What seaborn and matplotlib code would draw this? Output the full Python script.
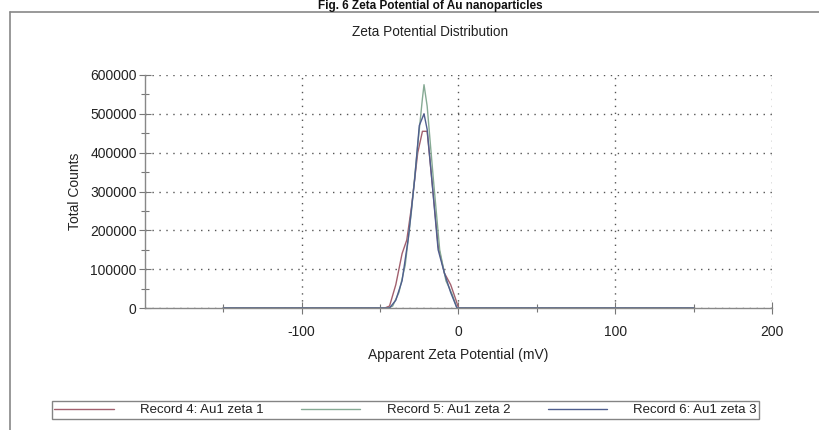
import numpy as np
import pandas as pd
import matplotlib
matplotlib.use("Agg")
import matplotlib.pyplot as plt
from matplotlib.ticker import MultipleLocator, FixedLocator
import seaborn as sns

# ---- data ----
records = ["Record 4: Au1 zeta 1", "Record 5: Au1 zeta 2", "Record 6: Au1 zeta 3"]

x_rec4 = [-150, -47, -44, -40, -36, -33, -30, -26, -23, -20, -17, -13, -9, -5, -2, 0, 150]
y_rec4 = [0, 0, 5000, 60000, 140000, 175000, 260000, 400000, 455000, 455000, 330000,
          160000, 90000, 60000, 25000, 0, 0]

x_rec5 = [-150, -45, -42, -38, -34, -30, -26, -23, -22, -20, -16, -12, -8, -4, -1, 150]
y_rec5 = [0, 0, 5000, 40000, 110000, 250000, 420000, 540000, 575000, 520000, 330000,
          150000, 70000, 35000, 0, 0]

x_rec6 = [-150, -44, -40, -36, -32, -28, -25, -22, -20, -17, -13, -9, -5, -1, 150]
y_rec6 = [0, 0, 20000, 70000, 180000, 330000, 470000, 500000, 460000, 330000, 150000,
          90000, 40000, 0, 0]

x_ticks = [-100, 0, 100, 200]
x_tick_labels = ["-100", "0", "100", "200"]

colors = ["#a2606e", "#86aa94", "#4f5e8e"]

df = pd.concat([
    pd.DataFrame({"mV": x_rec4, "counts": y_rec4, "rec": records[0]}),
    pd.DataFrame({"mV": x_rec5, "counts": y_rec5, "rec": records[1]}),
    pd.DataFrame({"mV": x_rec6, "counts": y_rec6, "rec": records[2]}),
], ignore_index=True)

sns.set_theme(style="white")
plt.rcParams["font.family"] = ["Liberation Sans", "DejaVu Sans"]

W, H = 820, 430
fig = plt.figure(figsize=(W / 100, H / 100), dpi=100)
ax = fig.add_axes([145 / W, 1 - 308 / H, (772 - 145) / W, (308 - 75) / H])

sns.lineplot(data=df, x="mV", y="counts", hue="rec", palette=colors, sort=False,
             estimator=None, ax=ax, linewidth=1.0, legend=False)

ax.set_xlim(-200, 200)
ax.set_ylim(0, 600000)

ax.xaxis.set_major_locator(FixedLocator(x_ticks))
ax.xaxis.set_minor_locator(FixedLocator([-150, -50, 50, 150]))
ax.yaxis.set_major_locator(MultipleLocator(100000))
ax.yaxis.set_minor_locator(MultipleLocator(50000))
ax.set_yticklabels([f"{int(v)}" for v in ax.get_yticks()])
ax.set_xticklabels(x_tick_labels)

ax.tick_params(axis="both", which="major", direction="inout", length=8, width=0.8,
               color="#777777", labelsize=10, labelcolor="#222222")
ax.tick_params(axis="both", which="minor", direction="inout", length=6, width=0.8, color="#777777")
ax.tick_params(axis="x", which="both", bottom=True, pad=8)
ax.tick_params(axis="y", which="both", left=True, pad=2)

ax.grid(True, which="major", linestyle=(0, (1, 4)), color="#555555", linewidth=1.0)
for s in ["top", "right"]:
    ax.spines[s].set_visible(False)
for s in ["left", "bottom"]:
    ax.spines[s].set_color("#888888")
    ax.spines[s].set_linewidth(1.0)

ax.set_xlabel("Apparent Zeta Potential (mV)", fontsize=10, color="#222222", labelpad=7)
ax.set_ylabel("Total Counts", fontsize=10, color="#222222", labelpad=6)

fig.text(430 / W, 1 - 32 / H, "Zeta Potential Distribution", ha="center", va="center",
         fontsize=9.8, color="#222222")

# heading of the scanned page (cut off in the reference; kept fully visible here)
fig.text(430 / W, 1 - 0.5 / H, "Fig. 6 Zeta Potential of Au nanoparticles", ha="center",
         va="top", fontsize=8.5, fontweight="bold", color="#111111")

# page frame lines
fig.add_artist(plt.Line2D([10 / W, 1.0], [1 - 12 / H, 1 - 12 / H], color="#888888", lw=1.2))
fig.add_artist(plt.Line2D([10 / W, 10 / W], [0, 1 - 12 / H], color="#888888", lw=1.2))

# legend
handles = [plt.Line2D([], [], color=c, lw=1.0) for c in colors]
leg = fig.legend(handles, records, loc="center", ncol=3, mode="expand",
                 bbox_to_anchor=(45 / W, 1 - 421 / H, (766 - 45) / W, 22 / H),
                 frameon=True, fancybox=False, edgecolor="#666666", fontsize=9.5,
                 handlelength=4.5, borderpad=0.2, columnspacing=2, handletextpad=2)
leg.get_frame().set_linewidth(1.0)
for t in leg.get_texts():
    t.set_color("#222222")

fig.savefig("out.png", dpi=100, facecolor="white")
